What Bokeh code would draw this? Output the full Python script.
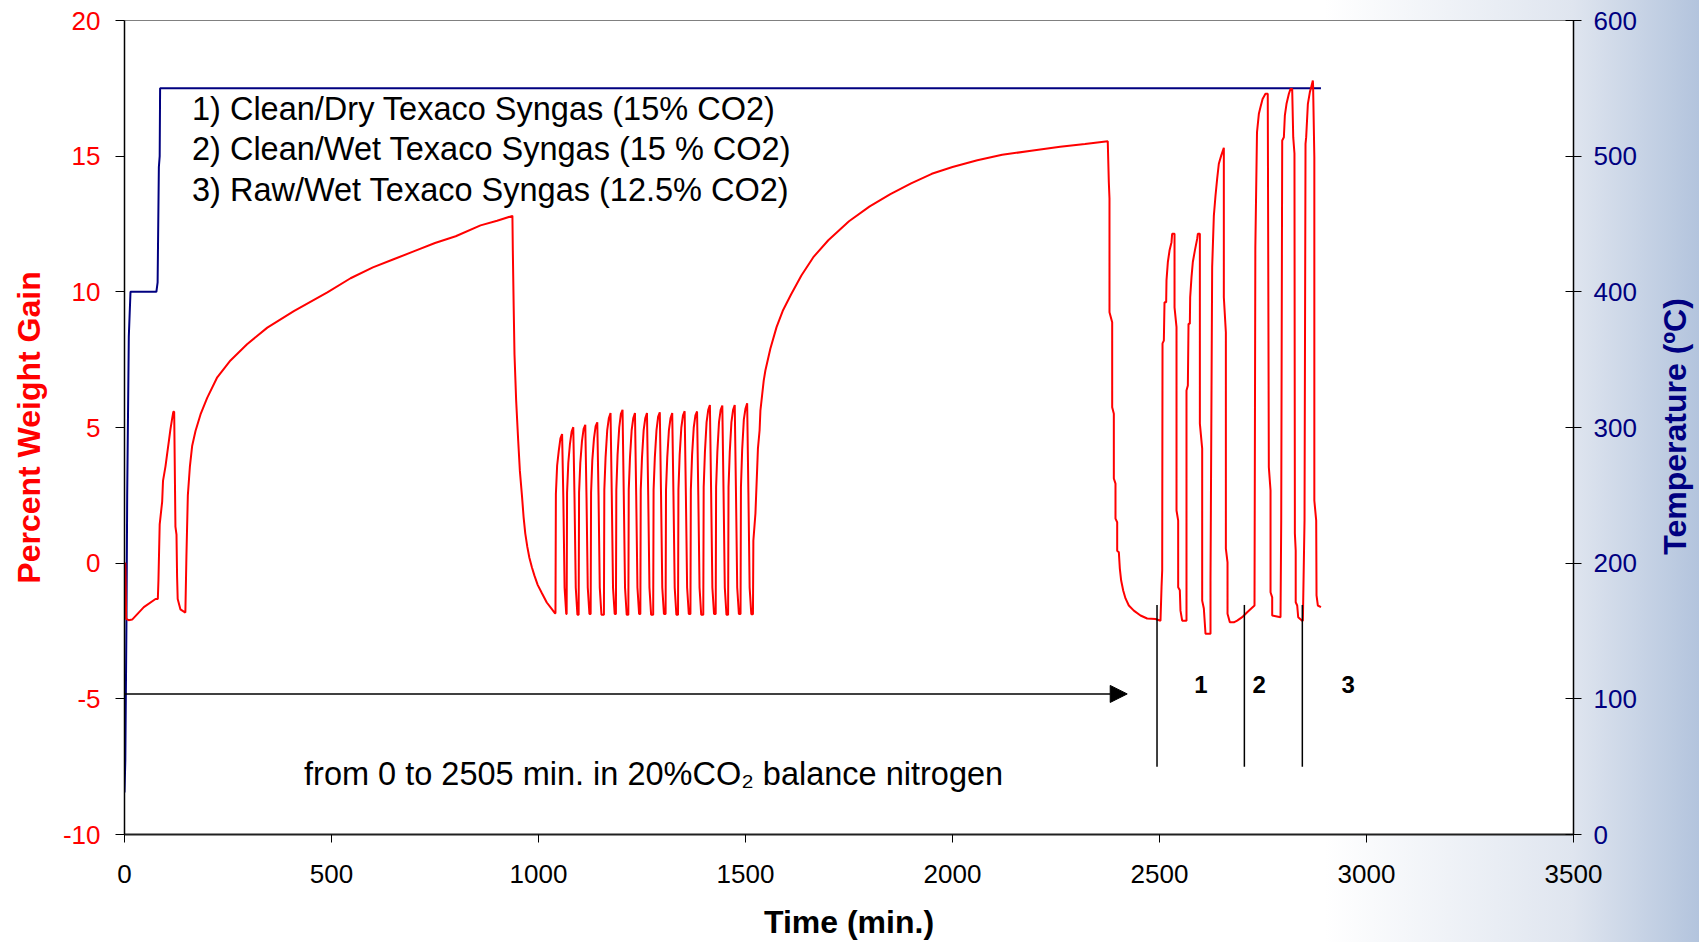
import math
from bokeh.plotting import figure
from bokeh.models import LinearAxis, Range1d, FixedTicker, Arrow, NormalHead, Label
from bokeh.core.properties import value
from bokeh.embed import file_html
from bokeh.resources import INLINE

# ---------------- data ----------------
x_ticks = [0, 500, 1000, 1500, 2000, 2500, 3000, 3500]
w_ticks = [-10, -5, 0, 5, 10, 15, 20]
temp_ticks = [0, 100, 200, 300, 400, 500, 600]

# temperature (right axis, deg C)
temp_t = [0, 2, 4.8, 6.5, 10.4, 14.5, 77, 80, 83, 85, 86, 2890]
temp_c = [31, 55, 159, 250, 367, 400, 400, 407, 492, 500, 550, 550]

# percent weight gain (left axis), piece by piece
start_t = [0, 2, 4, 10, 18.5, 46.7, 75, 80.5, 82, 85, 91, 93, 99, 103, 107, 111, 115, 118, 120,
           123, 125.6, 127, 128.5, 135, 147]
start_w = [0, 0, -2.05, -2.1, -2.08, -1.62, -1.32, -1.32, -0.63, 1.43, 2.27, 3.03, 3.57, 4.03, 4.48,
           4.94, 5.32, 5.58, 5.58, 1.35, 1.05, -0.48, -1.32, -1.7, -1.82]

ads1_t = [149.6, 153, 158, 163.5, 171.5, 183.6, 199.7, 224, 256, 296, 345, 409, 490, 546, 600,
          650, 700, 750, 800, 860, 900, 937]
ads1_w = [0.28, 2.5, 3.57, 4.33, 4.87, 5.48, 6.09, 6.85, 7.47, 8.07, 8.68, 9.29, 9.98, 10.5, 10.9,
          11.2, 11.5, 11.8, 12.05, 12.45, 12.62, 12.8]

des1_t = [938, 940, 942, 946, 951, 955, 960, 964, 968, 973, 978, 984, 990, 998, 1008, 1020, 1030, 1040]
des1_w = [11.5, 9.5, 7.7, 6.0, 4.5, 3.4, 2.5, 1.7, 1.1, 0.6, 0.2, -0.15, -0.45, -0.8, -1.1, -1.45,
          -1.65, -1.85]

cycA_t = [1041, 1042, 1045, 1049, 1053, 1057, 1060, 1063, 1067,
          1068, 1069, 1072, 1076, 1080, 1084, 1087, 1090, 1094,
          1097, 1098, 1101, 1105, 1109, 1113, 1116, 1119, 1123,
          1126, 1127, 1130, 1134, 1138, 1142, 1145, 1148, 1152,
          1158, 1159, 1162, 1166, 1170, 1174, 1177, 1180, 1184,
          1187, 1188, 1191, 1195, 1199, 1203, 1206, 1209, 1213,
          1217, 1218, 1221, 1225, 1229, 1233, 1236, 1239, 1243,
          1246, 1247, 1250, 1254, 1258, 1262, 1265, 1268, 1272]
cycA_w = [-1.85, 2.55, 3.6, 4.15, 4.6, 4.76, 2.4, -0.9, -1.87,
          -1.87, 2.6, 3.7, 4.4, 4.85, 5.01, 2.4, -0.9, -1.9,
          -1.9, 2.6, 3.7, 4.5, 4.95, 5.10, 2.4, -0.9, -1.87,
          -1.87, 2.6, 3.8, 4.6, 5.05, 5.19, 2.5, -0.9, -1.9,
          -1.9, 2.7, 3.9, 4.9, 5.35, 5.53, 2.5, -0.9, -1.87,
          -1.87, 2.7, 4.0, 5.0, 5.5, 5.65, 2.5, -0.9, -1.9,
          -1.9, 2.7, 3.9, 4.9, 5.35, 5.53, 2.5, -0.9, -1.87,
          -1.87, 2.7, 3.9, 4.9, 5.35, 5.53, 2.5, -0.9, -1.9]

cycB_t = [1277, 1278, 1281, 1285, 1289, 1293, 1296, 1299, 1303,
          1307, 1308, 1311, 1315, 1319, 1323, 1326, 1329, 1333,
          1337, 1338, 1341, 1345, 1349, 1353, 1356, 1359, 1363,
          1367, 1368, 1371, 1375, 1379, 1383, 1386, 1389, 1393,
          1398, 1399, 1402, 1406, 1410, 1414, 1417, 1420, 1424,
          1428, 1429, 1432, 1436, 1440, 1444, 1447, 1450, 1454,
          1458, 1459, 1462, 1466, 1470, 1474, 1477, 1480, 1484,
          1488, 1489, 1492, 1496, 1500, 1504, 1507, 1510, 1514]
cycB_w = [-1.9, 2.7, 3.9, 4.9, 5.4, 5.56, 2.5, -0.9, -1.87,
          -1.87, 2.7, 3.9, 4.9, 5.35, 5.53, 2.5, -0.9, -1.9,
          -1.9, 2.7, 4.0, 5.0, 5.45, 5.60, 2.5, -0.9, -1.87,
          -1.87, 2.7, 4.0, 5.0, 5.45, 5.59, 2.5, -0.9, -1.9,
          -1.9, 2.8, 4.1, 5.2, 5.65, 5.83, 2.6, -0.9, -1.87,
          -1.87, 2.8, 4.1, 5.2, 5.65, 5.81, 2.6, -0.9, -1.9,
          -1.9, 2.8, 4.1, 5.2, 5.65, 5.83, 2.6, -0.9, -1.87,
          -1.87, 2.8, 4.2, 5.3, 5.7, 5.89, 2.6, -0.9, -1.88]

ads2_t = [1518, 1519, 1524, 1528, 1530, 1534, 1536, 1544, 1548, 1560, 1575, 1590, 1610, 1635, 1665,
          1700, 1750, 1800, 1850, 1900, 1950, 2000, 2060, 2120, 2190, 2260, 2320, 2375]
ads2_w = [-1.88, 0.83, 1.83, 3.41, 4.22, 4.89, 5.62, 6.73, 7.1, 7.9, 8.7, 9.3, 9.9, 10.6, 11.3,
          11.9, 12.6, 13.15, 13.6, 14.0, 14.35, 14.6, 14.85, 15.05, 15.2, 15.35, 15.45, 15.55]

des2_t = [2377.6, 2379.2, 2379.2, 2385.7, 2385.7, 2389.7, 2389.7, 2393.7, 2393.7, 2397.8, 2397.8,
          2401.8, 2404.2, 2407.4, 2412.3, 2417.9, 2425.9, 2438, 2454.1, 2470.2, 2490.4, 2502.4]
des2_w = [14.04, 13.44, 9.25, 8.88, 5.75, 5.51, 3.12, 2.93, 1.64, 1.51, 0.46,
          0.4, -0.2, -0.64, -1.01, -1.3, -1.56, -1.75, -1.93, -2.04, -2.06, -2.12]

syn_t = [2504.9, 2506.5, 2507.3, 2510.5, 2512.1, 2516.1, 2516.9, 2520.2, 2524.2, 2529, 2530.6, 2536.3,
         2536.3, 2541.1, 2541.1, 2545.1, 2545.1, 2549.1, 2550.7, 2554.8, 2565.2,
         2565.2, 2568.5, 2570.1, 2573.3, 2574.1, 2577.3, 2580.5, 2585.4, 2591, 2592.6, 2597.5,
         2597.5, 2603.1, 2603.1, 2607.1, 2611.1, 2623.2,
         2623.2, 2627.2, 2631.3, 2635.3, 2639.3, 2643.3, 2649, 2655.4,
         2655.4, 2660.3, 2660.3, 2664.3, 2664.3, 2669.9, 2679.6, 2687.6, 2699.7, 2711.8, 2729.5,
         2731.5, 2735.5, 2740, 2744, 2749, 2756, 2761.5,
         2764.1, 2768.2, 2768.2, 2772.2, 2772.2, 2792.3,
         2794, 2796.4, 2800.4, 2802.8, 2806.8, 2812.5, 2816.5, 2820.5,
         2823, 2826, 2827, 2829, 2829, 2832.6, 2835, 2844.6,
         2846.3, 2850.3, 2852.7, 2854.3, 2858.4, 2863.2, 2866.4, 2870.4,
         2871, 2874, 2874, 2878.5, 2879.3, 2882.5, 2890]
syn_w = [-0.89, -0.27, 8.1, 8.2, 9.62, 9.62, 10.42, 11.1, 11.52, 11.83, 12.14, 12.14,
         9.43, 8.7, 1.94, 1.57, -0.89, -1.0, -1.75, -2.12, -2.12,
         6.36, 6.55, 8.82, 8.82, 9.8, 10.54, 11.1, 11.52, 11.95, 12.14, 12.14,
         5.14, 4.22, -1.38, -1.67, -2.6, -2.6,
         -0.64, 10.91, 12.81, 13.55, 14.17, 14.72, 15.02, 15.31,
         9.8, 8.51, 0.54, 0.03, -1.86, -2.18, -2.18, -2.12, -1.99, -1.81, -1.56,
         11.65, 15.88, 16.56, 16.81, 17.11, 17.3, 17.3,
         3.54, 2.68, -1.07, -1.26, -1.93, -1.99,
         1.57, 15.58, 15.7, 16.5, 16.93, 17.3, 17.48, 17.48,
         15.7, 15.1, 1.09, 0.46, -1.44, -1.56, -1.99, -2.12,
         -2.12, 1.57, 15.45, 15.7, 16.93, 17.36, 17.54, 17.79,
         17.6, 14.96, 2.31, 1.57, -1.19, -1.56, -1.62]

gas_labels = ["1) Clean/Dry Texaco Syngas (15% CO2)",
              "2) Clean/Wet Texaco Syngas (15 % CO2)",
              "3) Raw/Wet Texaco Syngas (12.5% CO2)"]
switch_t = [2494, 2705, 2845]
switch_names = ["1", "2", "3"]
note_text = "from 0 to 2505 min. in 20%CO\u2082 balance nitrogen"
right_title = "Temperature (\u00baC)"

weight_t = start_t + ads1_t + des1_t + cycA_t + cycB_t + ads2_t + des2_t + syn_t
weight_w = start_w + ads1_w + des1_w + cycA_w + cycB_w + ads2_w + des2_w + syn_w

# ---------------- figure ----------------
FONT = "Liberation Sans"
RED = "#ff0000"
NAVY = "#000080"
TICK_FS = "26px"

p = figure(width=1699, height=942, x_range=Range1d(0, 3500), y_range=Range1d(-10, 20),
           output_backend="svg", toolbar_location=None,
           min_border_left=124, min_border_right=126, min_border_top=20, min_border_bottom=108)
p.extra_y_ranges = {"temp": Range1d(0, 600)}
p.xgrid.visible = False
p.ygrid.visible = False
p.background_fill_color = "white"
p.border_fill_color = None
p.outline_line_color = "#808080"
p.outline_line_width = 1
p.styles = {"background": "linear-gradient(to right, #ffffff 0%, #ffffff 78%, #dfe5ef 92.6%, #b3c4dd 100%)"}

# left axis
ya = p.yaxis[0]
ya.ticker = FixedTicker(ticks=w_ticks)
ya.major_label_overrides = {t: str(t) for t in w_ticks}
ya.axis_label = "Percent Weight Gain"
ya.axis_label_text_color = RED
ya.axis_label_text_font = FONT
ya.axis_label_text_font_style = "bold"
ya.axis_label_text_font_size = "32px"
ya.axis_label_standoff = 13
ya.major_label_text_color = RED
ya.major_label_text_font = FONT
ya.major_label_text_font_size = TICK_FS
ya.major_label_standoff = 15
ya.major_tick_out = 9
ya.major_tick_in = 0
ya.minor_tick_line_color = None
ya.axis_line_color = "black"
ya.axis_line_width = 1.5
ya.major_tick_line_color = "black"

# bottom axis
xa = p.xaxis[0]
xa.ticker = FixedTicker(ticks=x_ticks)
xa.major_label_overrides = {t: str(t) for t in x_ticks}
xa.axis_label = "Time (min.)"
xa.axis_label_text_color = "black"
xa.axis_label_text_font = FONT
xa.axis_label_text_font_style = "bold"
xa.axis_label_text_font_size = "32px"
xa.axis_label_standoff = 18
xa.major_label_text_color = "black"
xa.major_label_text_font = FONT
xa.major_label_text_font_size = TICK_FS
xa.major_label_standoff = 22
xa.major_tick_out = 8
xa.major_tick_in = 0
xa.minor_tick_line_color = None
xa.axis_line_color = "#202020"
xa.axis_line_width = 2
xa.major_tick_line_color = "black"

# right axis
ra = LinearAxis(y_range_name="temp")
ra.ticker = FixedTicker(ticks=temp_ticks)
ra.major_label_overrides = {t: str(t) for t in temp_ticks}
ra.major_label_text_color = NAVY
ra.major_label_text_font = FONT
ra.major_label_text_font_size = TICK_FS
ra.major_label_standoff = 12
ra.major_tick_out = 8
ra.major_tick_in = 8
ra.minor_tick_line_color = None
ra.axis_line_color = "black"
ra.axis_line_width = 1.5
ra.major_tick_line_color = "black"
p.add_layout(ra, "right")

# right axis title, reading bottom to top; placed in the right side panel (not clipped)
p.add_layout(Label(x=3744, y=5.04, text=right_title, angle=math.pi / 2,
                   text_font=FONT, text_font_size="32px", text_font_style="bold",
                   text_color=NAVY, text_align="center", text_baseline="middle"), "right")

# curves
p.line(temp_t, temp_c, y_range_name="temp", line_color=NAVY, line_width=2)
p.line(weight_t, weight_w, line_color=RED, line_width=2)

# gas legend text
p.text(x=[163, 163, 163], y=[16.74, 15.27, 13.75], text=gas_labels,
       text_font=value(FONT), text_font_size="32.5px", text_color="black",
       text_align="left", text_baseline="middle")

# arrow for the 20% CO2 period
p.add_layout(Arrow(end=NormalHead(size=17, fill_color="black", line_color="black", line_width=1),
                   x_start=0, y_start=-4.82, x_end=2422, y_end=-4.82,
                   line_color="black", line_width=1.5))
p.text(x=[1278], y=[-7.78], text=[note_text], text_font=value(FONT), text_font_size="32.5px",
       text_color="black", text_align="center", text_baseline="middle")

# gas switch markers
p.segment(x0=switch_t, y0=[-1.54] * 3, x1=switch_t, y1=[-7.5] * 3, line_color="black", line_width=1.5)
p.text(x=[2600, 2741, 2956], y=[-4.46] * 3, text=switch_names, text_font=value(FONT),
       text_font_size="24px", text_font_style="bold", text_color="black",
       text_align="center", text_baseline="middle")

open("out.html", "w").write(file_html(p, INLINE))
